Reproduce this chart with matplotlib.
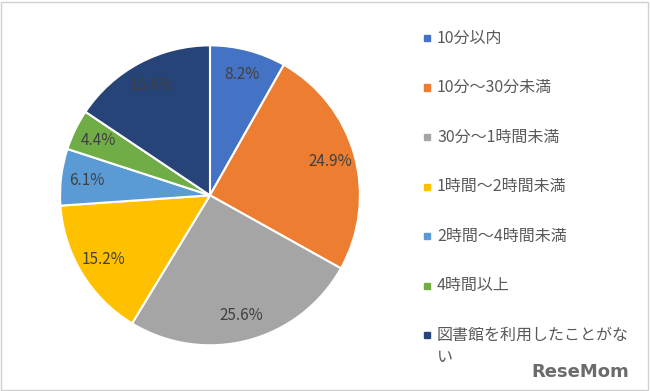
import matplotlib.pyplot as plt
from matplotlib.patches import Rectangle

plt.rcParams['font.family'] = ['Noto Sans CJK JP', 'DejaVu Sans']

labels = ['10分以内', '10分～30分未満', '30分～1時間未満', '1時間～2時間未満',
          '2時間～4時間未満', '4時間以上', '図書館を利用したことがな']
values = [8.2, 24.9, 25.6, 15.2, 6.1, 4.4, 15.6]
colors = ['#4472C4', '#ED7D31', '#A5A5A5', '#FFC000', '#5B9BD5', '#70AD47', '#264478']

fig = plt.figure(figsize=(6.5, 3.91), dpi=100)
ax = fig.add_axes([0.0923, 0.117, 0.4615, 0.767])
wedges, texts, autotexts = ax.pie(values, colors=colors, startangle=90, counterclock=False,
                                  autopct='%.1f%%', pctdistance=0.83,
                                  wedgeprops=dict(edgecolor='white', linewidth=1.5))
for t in autotexts:
    t.set_color('#404040')
    t.set_fontsize(11)
ax.set_xlim(-1, 1)
ax.set_ylim(-1, 1)
ax.set_aspect('equal')

# 凡例（手動）
y0 = 391 - 38
for i, lab in enumerate(labels):
    y = (y0 - i * 49.5) / 391
    fig.patches.append(Rectangle((424 / 650, y - 3 / 391), 6 / 650, 6 / 391,
                                 color=colors[i], transform=fig.transFigure, figure=fig))
    fig.text(437 / 650, y, lab, color='#595959', fontsize=11.5, va='center')
# 折り返しの「い」
fig.text(437 / 650, (391 - 358) / 391, 'い', color='#595959', fontsize=11.5, va='center')

fig.text(0.893, 0.048, 'ReseMom', color='#6b6b6b', fontsize=13, fontweight='bold',
         ha='center', va='center', family='DejaVu Sans')

fig.patches.append(Rectangle((0.002, 0.003), 0.995, 0.993, fill=False, edgecolor='#d0d0d0',
                             linewidth=1, transform=fig.transFigure, figure=fig))
fig.savefig('out.png', dpi=100)
